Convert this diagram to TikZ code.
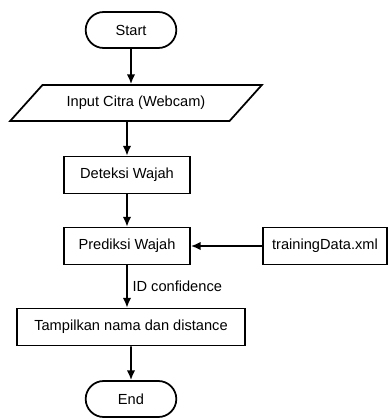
\documentclass[tikz,border=0pt]{standalone}
\usepackage{fontspec}
\setmainfont{Liberation Sans}
\usetikzlibrary{shapes.geometric,shapes.misc,arrows.meta}

\begin{document}
\begin{tikzpicture}[line width=1.25pt, >={Latex[length=7pt,width=6pt]},
    every node/.style = {font=\fontsize{10.4}{12}\selectfont},
    terminal/.style = {draw, rounded rectangle, minimum width=2.5cm, minimum height=0.9cm},
    io/.style = {draw, trapezium, trapezium left angle=42, trapezium right angle=138,
      trapezium stretches=true, minimum width=6.3cm, minimum height=0.9cm},
    process/.style = {draw, rectangle, minimum height=0.92cm}]
  \useasboundingbox (0,0) rectangle (9.7,-10.475);
  \node[terminal] (start) at (3.275,-0.75) {Start};
  \node[io] (input) at (3.4,-2.575) {Input Citra (Webcam)};
  \node[process, minimum width=3.15cm] (deteksi) at (3.175,-4.375) {Deteksi Wajah};
  \node[process, minimum width=3.15cm] (prediksi) at (3.175,-6.15) {Prediksi Wajah};
  \node[process, minimum width=3.1cm] (training) at (8.125,-6.15) {trainingData.xml};
  \node[process, minimum width=5.7cm] (tampil) at (3.275,-8.175) {Tampilkan nama dan distance};
  \node[terminal] (stop) at (3.275,-9.975) {End};

  \draw[->] (start) -- (start |- input.north);
  \draw[->] (deteksi |- input.south) -- (deteksi);
  \draw[->] (deteksi) -- (prediksi);
  \draw[->] (training) -- (prediksi);
  \draw[->] (prediksi) -- node[right]{ID confidence} (prediksi |- tampil.north);
  \draw[->] (stop |- tampil.south) -- (stop);
\end{tikzpicture}
\end{document}
